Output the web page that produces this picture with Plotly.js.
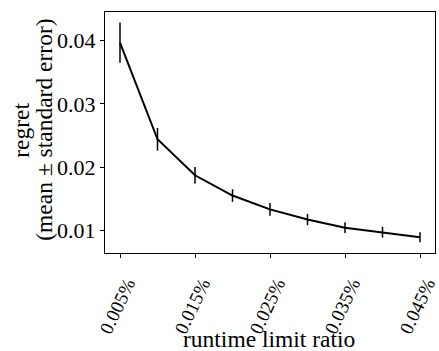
<!DOCTYPE html>
<html>
<head>
<meta charset="utf-8">
<script src="https://cdn.plot.ly/plotly-3.0.1.min.js"></script>
<style>html,body{margin:0;padding:0;background:#fff;}#chart{width:439px;height:351px;}</style>
</head>
<body>
<div id="chart"></div>
<script>
// runtime limit ratio (in %)
var ratios = [0.005, 0.01, 0.015, 0.02, 0.025, 0.03, 0.035, 0.04, 0.045];
// mean regret
var regretMean = [0.0397, 0.0244, 0.0187, 0.0155, 0.0133, 0.0117, 0.0104, 0.0097, 0.0089];
// standard error
var regretSE = [0.0032, 0.0018, 0.0013, 0.0010, 0.0010, 0.0009, 0.00085, 0.00085, 0.0008];
// tick labels
var xTickVals = [0.005, 0.015, 0.025, 0.035, 0.045];
var xTickText = ["0.005%", "0.015%", "0.025%", "0.035%", "0.045%"];
var yTickVals = [0.01, 0.02, 0.03, 0.04];
var yTickText = ["0.01", "0.02", "0.03", "0.04"];
var xTitle = "runtime limit ratio";
var yTitleLines = ["regret", "(mean ± standard error)"];

var font = "Liberation Serif, Times New Roman, serif";
var H = 240.7; // plot height in px, for placing titles in paper units
var W = 329.7;

var trace = {
  x: ratios,
  y: regretMean,
  type: "scatter",
  mode: "lines",
  line: {color: "#000", width: 2},
  error_y: {type: "data", array: regretSE, visible: true, color: "#000", thickness: 1.5, width: 0},
  hoverinfo: "skip"
};

var titleFont = {family: font, size: 23.5, color: "#000"};

var layout = {
  width: 439, height: 351,
  margin: {l: 105.3, r: 4, t: 12, b: 98.3},
  paper_bgcolor: "#fff", plot_bgcolor: "#fff",
  showlegend: false,
  font: {family: font, size: 22, color: "#000"},
  xaxis: {
    range: [0.003, 0.047],
    tickvals: xTickVals, ticktext: xTickText,
    tickangle: -65,
    ticklabelshift: 7,
    ticklabelstandoff: 7,
    ticklabeloverflow: "allow",
    ticks: "outside", ticklen: 4, tickwidth: 1, tickcolor: "#000",
    showgrid: false, zeroline: false,
    showline: true, mirror: true, linecolor: "#000", linewidth: 1,
    tickfont: {family: font, size: 19, color: "#000"}
  },
  yaxis: {
    range: [0.0064, 0.04455],
    tickvals: yTickVals, ticktext: yTickText,
    ticks: "outside", ticklen: 4, tickwidth: 1, tickcolor: "#000",
    showgrid: false, zeroline: false,
    showline: true, mirror: true, linecolor: "#000", linewidth: 1,
    tickfont: {family: font, size: 22, color: "#000"}
  },
  annotations: [
    {text: xTitle, xref: "paper", yref: "paper", x: (269.5 - 105.3) / W, y: (252.7 - 354) / H,
     xanchor: "center", yanchor: "bottom", showarrow: false, font: titleFont},
    {text: yTitleLines[0], xref: "paper", yref: "paper", x: (22 - 105.3) / W, y: (252.7 - 130) / H,
     xanchor: "center", yanchor: "middle", textangle: -90, showarrow: false, font: titleFont},
    {text: yTitleLines[1], xref: "paper", yref: "paper", x: (45 - 105.3) / W, y: (252.7 - 130) / H,
     xanchor: "center", yanchor: "middle", textangle: -90, showarrow: false, font: titleFont}
  ]
};

Plotly.newPlot("chart", [trace], layout, {staticPlot: true, displayModeBar: false});
</script>
</body>
</html>
